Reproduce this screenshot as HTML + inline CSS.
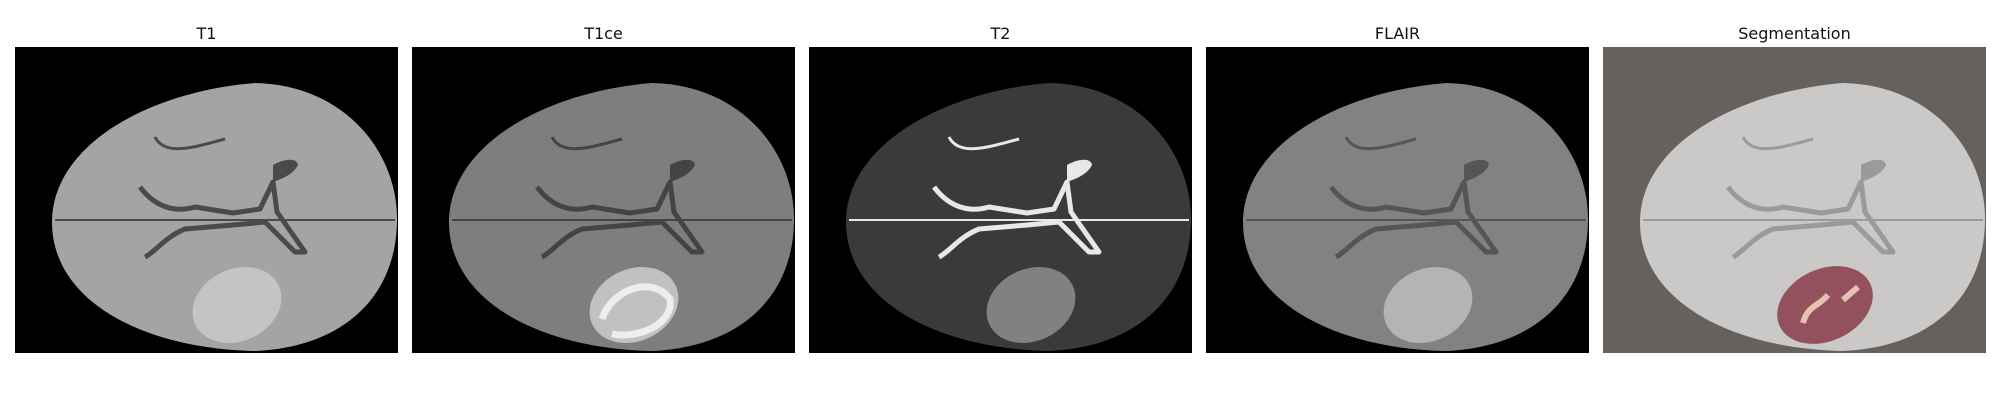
<!DOCTYPE html>
<html><head><meta charset="utf-8"><style>
html,body{margin:0;padding:0;background:#fff;width:2000px;height:400px;overflow:hidden}
.t{position:absolute;top:24px;font:16px "DejaVu Sans","Liberation Sans",sans-serif;color:#111;text-align:center;width:383px}
svg{position:absolute;top:47px}
</style></head><body>
<div id="root"></div>
<script>
const titles=["T1","T1ce","T2","FLAIR","Segmentation"];
const bgs=["#000","#000","#000","#000","#65615e"];
const brains=["#a4a4a4","#7e7e7e","#3a3a3a","#828282","#cbc9c7"];
const csf=["#4a4a4a","#444","#e8e8e8","#555","#9c9a98"];
const tumors=["#cfcfcf","#d8d8d8","#9a9a9a","#c4c4c4","#8a3c4a"];
const lefts=[15,412,809,1206,1603];
const root=document.getElementById('root');
const brainPath="M 37 175 C 37 100, 130 45, 240 36 C 330 38, 382 105, 382 172 C 382 248, 330 300, 240 304 C 130 302, 37 255, 37 175 Z";
for(let i=0;i<titles.length;i++){
  const t=document.createElement('div');
  t.className='t';t.style.left=lefts[i]+'px';t.textContent=titles[i];
  
  
  root.appendChild(t);
  const ns="http://www.w3.org/2000/svg";
  const s=document.createElementNS(ns,'svg');
  s.setAttribute('width','383');s.setAttribute('height','306');
  s.style.left=lefts[i]+'px';
  
  
  s.innerHTML=
   `<rect width="383" height="306" fill="${bgs[i]}"/>`+
   `<path d="${brainPath}" fill="${brains[i]}"/>`+
   `<path d="M 40 173 L 380 173" stroke="${csf[i]}" stroke-width="2"/>`+
   `<path d="M 258 118 C 268 112, 282 110, 283 118 C 278 128, 266 132, 258 135 Z" fill="${csf[i]}"/>`+
   `<path d="M 125 140 C 140 160, 160 166, 180 160 L 218 166 L 245 162 L 258 135 L 262 165 L 290 205 L 280 205 L 250 175 L 218 178 L 170 182 C 150 190, 140 205, 130 210" stroke="${csf[i]}" stroke-width="5" fill="none" stroke-linejoin="round"/>`+
   `<path d="M 140 90 C 150 110, 180 100, 210 92" stroke="${csf[i]}" stroke-width="3" fill="none"/>`+
   `<ellipse cx="222" cy="258" rx="${i==4?50:46}" ry="${i==4?36:36}" transform="rotate(-25 222 258)" fill="${tumors[i]}" opacity="${i==4?0.85:0.75}"/>`+
   (i==1?`<path d="M 190 272 C 200 242, 240 228, 258 252 C 262 278, 225 292, 200 287" stroke="#eee" stroke-width="7" fill="none"/>`:'')+
   (i==4?`<path d="M 200 276 C 205 258, 215 260, 225 248 M 240 253 L 255 240" stroke="#e6c0b0" stroke-width="6" fill="none"/>`:'');
  root.appendChild(s);
}
</script>
</body></html>
